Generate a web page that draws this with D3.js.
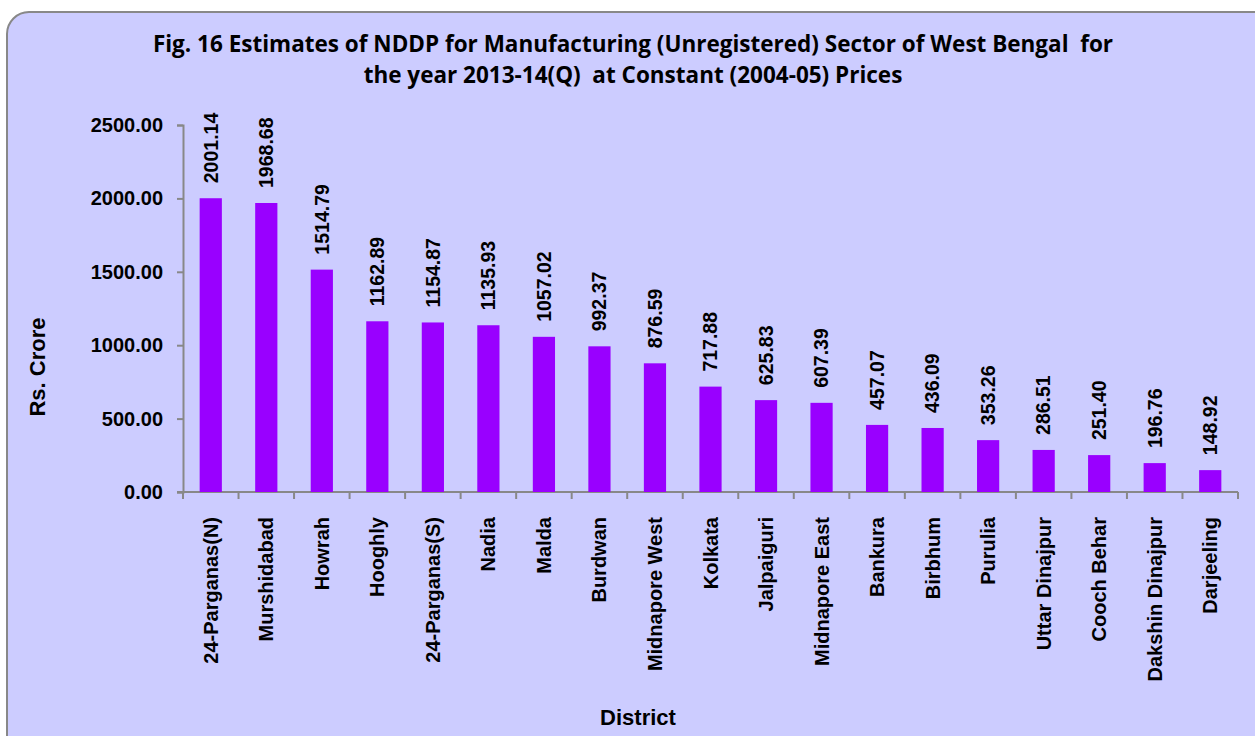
<!DOCTYPE html>
<html lang="en">
<head>
<meta charset="utf-8">
<title>NDDP Manufacturing (Unregistered) West Bengal</title>
<script src="https://cdn.jsdelivr.net/npm/d3@7"></script>
<style>
  body { margin: 0; background: #fff; }
  svg text { font-family: Arial, "Liberation Sans", sans-serif; font-weight: bold; fill: #000; }
</style>
</head>
<body>
<script>
// data
var districts = ["24-Parganas(N)", "Murshidabad", "Howrah", "Hooghly", "24-Parganas(S)", "Nadia",
  "Malda", "Burdwan", "Midnapore West", "Kolkata", "Jalpaiguri", "Midnapore East", "Bankura",
  "Birbhum", "Purulia", "Uttar Dinajpur", "Cooch Behar", "Dakshin Dinajpur", "Darjeeling"];
var nddp = [2001.14, 1968.68, 1514.79, 1162.89, 1154.87, 1135.93, 1057.02, 992.37, 876.59,
  717.88, 625.83, 607.39, 457.07, 436.09, 353.26, 286.51, 251.40, 196.76, 148.92];
var yTicks = [0, 500, 1000, 1500, 2000, 2500];
var titleLines = ["Fig. 16 Estimates of NDDP for Manufacturing (Unregistered) Sector of West Bengal  for",
  "the year 2013-14(Q)  at Constant (2004-05) Prices"];

var w = 1255, h = 736;
var plotLeft = 183, plotRight = 1238, plotTop = 125, plotBottom = 492;

var svg = d3.select("body").append("svg")
  .attr("width", w)
  .attr("height", h);

// chart area background
svg.append("rect")
  .attr("x", 7).attr("y", 12)
  .attr("width", w + 30).attr("height", h + 30)
  .attr("rx", 22).attr("ry", 22)
  .attr("fill", "#ccccff")
  .attr("stroke", "#888")
  .attr("stroke-width", 2);

var x = d3.scaleBand().domain(districts).range([plotLeft, plotRight]).paddingInner(0.6).paddingOuter(0.3);
var y = d3.scaleLinear().domain([0, 2500]).range([plotBottom, plotTop]);

// title
svg.selectAll(".title")
  .data(titleLines)
  .enter().append("text")
  .attr("class", "title")
  .attr("x", 633)
  .attr("y", function(d, i) { return 52 + i * 31; })
  .attr("text-anchor", "middle")
  .style("font-family", "'Open Sans', sans-serif")
  .style("font-size", "22.5px")
  .style("white-space", "pre")
  .text(function(d) { return d; });

// y axis
var yAxis = svg.append("g")
  .attr("transform", "translate(" + plotLeft + ",0)")
  .call(d3.axisLeft(y).tickValues(yTicks).tickFormat(d3.format(".2f")).tickSize(6).tickPadding(14));
yAxis.selectAll("text").style("font-size", "20px");
yAxis.selectAll("line, path").attr("stroke", "#888").attr("stroke-width", 2);

// x axis (ticks at band edges)
var xAxis = svg.append("g").attr("transform", "translate(0," + plotBottom + ")");
xAxis.append("line")
  .attr("x1", plotLeft - 6).attr("x2", plotRight)
  .attr("stroke", "#888").attr("stroke-width", 2);
xAxis.selectAll(".edge")
  .data(d3.range(districts.length + 1))
  .enter().append("line")
  .attr("class", "edge")
  .attr("x1", function(i) { return plotLeft + i * x.step(); })
  .attr("x2", function(i) { return plotLeft + i * x.step(); })
  .attr("y1", 0).attr("y2", 7)
  .attr("stroke", "#888").attr("stroke-width", 2);

// bars
svg.selectAll(".bar")
  .data(nddp)
  .enter().append("rect")
  .attr("class", "bar")
  .attr("x", function(d, i) { return x(districts[i]); })
  .attr("y", function(d) { return y(d); })
  .attr("width", x.bandwidth())
  .attr("height", function(d) { return plotBottom - y(d); })
  .attr("fill", "#9900ff");

// value labels
svg.selectAll(".val")
  .data(nddp)
  .enter().append("text")
  .attr("class", "val")
  .attr("transform", function(d, i) {
    return "translate(" + (x(districts[i]) + x.bandwidth() / 2) + "," + (y(d) - 15) + ") rotate(-90)";
  })
  .attr("dy", "0.35em")
  .style("font-size", "19.5px")
  .text(function(d) { return d.toFixed(2); });

// category labels
svg.selectAll(".cat")
  .data(districts)
  .enter().append("text")
  .attr("class", "cat")
  .attr("transform", function(d) {
    return "translate(" + (x(d) + x.bandwidth() / 2) + "," + (plotBottom + 25) + ") rotate(-90)";
  })
  .attr("dy", "0.35em")
  .attr("text-anchor", "end")
  .style("font-size", "20px")
  .text(function(d) { return d; });

// axis titles
svg.append("text")
  .attr("x", 638).attr("y", 725)
  .attr("text-anchor", "middle")
  .style("font-size", "22px")
  .text("District");

svg.append("text")
  .attr("transform", "translate(45,367) rotate(-90)")
  .attr("text-anchor", "middle")
  .style("font-size", "22px")
  .text("Rs. Crore");
</script>
</body>
</html>
